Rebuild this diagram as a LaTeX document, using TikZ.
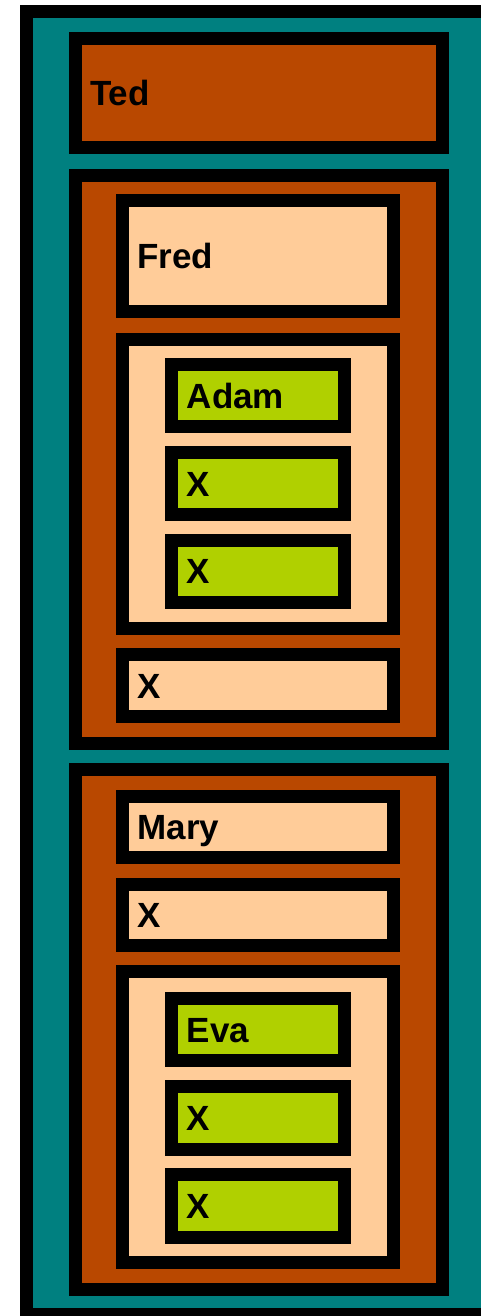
\documentclass[tikz,border=0pt]{standalone}
\usepackage{fontspec}
\setmainfont{Liberation Sans}
\usepackage{tikz}
\usetikzlibrary{positioning}

\definecolor{sea}{RGB}{0,128,128}
\definecolor{rust}{RGB}{185,72,0}
\definecolor{peach}{RGB}{255,204,153}
\definecolor{lime}{RGB}{176,208,0}

\begin{document}
\begin{tikzpicture}[
        x=1pt, y=-1pt,
        box/.style={rectangle, draw=black, line width=13pt, inner xsep=15pt, inner ysep=0pt,
                    align=left, text height=25pt, text depth=0pt,
                    font=\fontsize{35}{40}\selectfont\bfseries},
        bigbox/.style={box, fill=rust, minimum width=367.6pt, text width=337.6pt},
        midbox/.style={box, fill=peach, minimum width=271pt, text width=241pt},
        leafbox/.style={box, fill=lime, minimum width=172.4pt, text width=142.4pt},
    ]
        \fill[white] (0,0) rectangle (481,1316);
        \path[use as bounding box, clip] (0,0) rectangle (481,1316);

        % ====== outer frame ======
        \node[box, fill=sea, line width=12.7pt, minimum width=465pt, minimum height=1303pt] (root) at (259,663) {};

        % ====== first level ======
        \node[bigbox, minimum height=109pt]   (ted)  at (259,93.3)    {Ted};
        \node[bigbox, minimum height=567.7pt] (fredgrp) at (259,459.65) {};
        \node[bigbox, minimum height=519.7pt] (marygrp) at (259,1029.65) {};

        % ====== Fred branch ======
        \node[midbox, minimum height=110.4pt] (fred)    at (258,256)    {Fred};
        \node[midbox, minimum height=288.7pt] (adamgrp) at (258,484.15) {};
        \node[midbox, minimum height=62pt]    (fredx)   at (258,685.8)  {X};

        \node[leafbox, minimum height=62pt] (adam)   at (258,395.8) {Adam};
        \node[leafbox, minimum height=62pt, below=12.7pt of adam]  (adamx1) {X};
        \node[leafbox, minimum height=62pt, below=12.7pt of adamx1] (adamx2) {X};

        % ====== Mary branch ======
        \node[midbox, minimum height=61pt]  (mary)   at (258,827.3)  {Mary};
        \node[midbox, minimum height=61pt, below=14pt of mary] (maryx) {X};
        \node[midbox, minimum height=291pt] (evagrp) at (258,1117)   {};

        \node[leafbox, minimum height=62.6pt] (eva)   at (258,1029.5) {Eva};
        \node[leafbox, minimum height=62.6pt, below=12.7pt of eva]   (evax1) {X};
        \node[leafbox, minimum height=62.6pt, below=12.7pt of evax1] (evax2) {X};
    \end{tikzpicture}
\end{document}
